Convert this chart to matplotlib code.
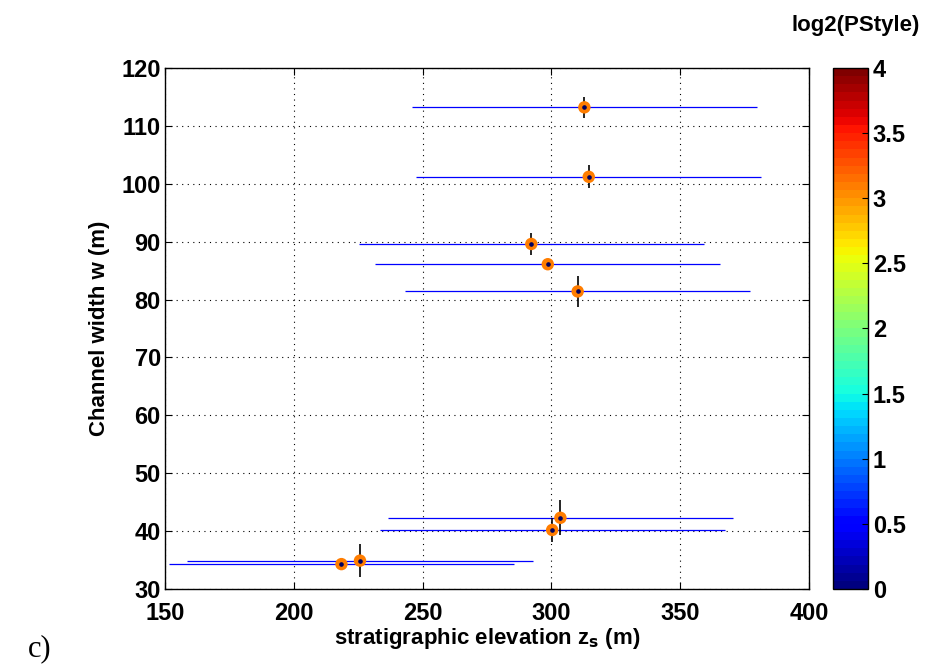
import numpy as np
import matplotlib
matplotlib.use('Agg')
import matplotlib.pyplot as plt

# stratigraphic elevation z_s (m) and channel width w (m)
elev = [312.8, 314.5, 292.2, 298.6, 310.2, 303.5, 300.3, 225.7, 218.5]
width = [113.2, 101.2, 89.6, 86.1, 81.4, 42.3, 40.2, 34.9, 34.3]
elev_err = [67, 67, 67, 67, 67, 67, 67, 67, 67]
width_err = [1.8, 2.0, 1.85, 0.5, 2.7, 3.05, 2.05, 2.9, 0.4]
log2_pstyle = [3.1, 3.1, 3.1, 3.1, 3.1, 3.1, 3.1, 3.1, 3.1]

xticks = [150, 200, 250, 300, 350, 400]
yticks = [30, 40, 50, 60, 70, 80, 90, 100, 110, 120]
cticks = [0, 0.5, 1, 1.5, 2, 2.5, 3, 3.5, 4]

plt.rcParams['font.family'] = ['Liberation Sans', 'DejaVu Sans']
plt.rcParams['font.weight'] = 'bold'

fig = plt.figure(figsize=(9.3, 6.71), dpi=100)
ax = fig.add_axes([0.1774, 0.1222, 0.6925, 0.7765])
cax = fig.add_axes([0.8957, 0.1222, 0.0376, 0.7765])

ax.errorbar(elev, width, xerr=elev_err, fmt='none', ecolor='blue',
            elinewidth=0.9, capsize=0, zorder=2)
ax.errorbar(elev, width, yerr=width_err, fmt='none', ecolor='black',
            elinewidth=1.2, capsize=0, zorder=3)
sc = ax.scatter(elev, width, c=log2_pstyle, cmap=plt.get_cmap('jet', 64),
                vmin=0, vmax=4, s=80, edgecolors='none', zorder=4)
ax.plot(elev, width, linestyle='none', marker='o', ms=2.3,
        color='#000060', zorder=5)

ax.set_xlim(150, 400)
ax.set_ylim(30, 120)
ax.set_xticks(xticks)
ax.set_yticks(yticks)
ax.grid(True, linestyle=(0, (1, 4)), color='black', linewidth=0.8)
ax.tick_params(direction='in', length=5, top=True, right=True,
               labelsize=17, width=0.8)
ax.tick_params(axis='x', pad=9)
ax.tick_params(axis='y', pad=3)
for sp in ax.spines.values():
    sp.set_linewidth(1.0)

ax.set_xlabel('stratigraphic elevation z$_\\mathbf{s}$ (m)', fontsize=16,
              fontweight='bold', labelpad=1)
ax.set_ylabel('Channel width w (m)', fontsize=16, fontweight='bold',
              labelpad=8)

cb = fig.colorbar(sc, cax=cax, ticks=cticks)
cb.ax.set_yticklabels(['0', '0.5', '1', '1.5', '2', '2.5', '3', '3.5', '4'])
cb.ax.tick_params(direction='in', length=4, labelsize=17, width=0.8)
cb.outline.set_linewidth(1.0)
fig.text(0.92, 0.962, 'log2(PStyle)', ha='center', va='center',
         fontsize=16, fontweight='bold')

fig.text(0.03, 0.022, 'c)', fontsize=22, fontweight='normal',
         family=['Liberation Serif', 'DejaVu Serif'])

fig.savefig('out.png', dpi=100)
